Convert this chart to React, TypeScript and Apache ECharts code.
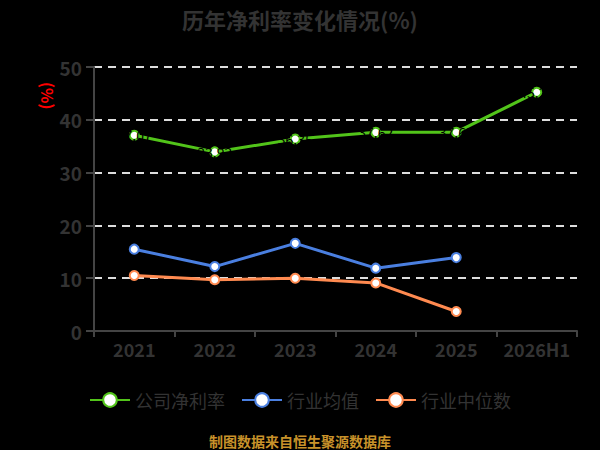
import React, { useEffect, useRef } from "react";
import * as echarts from "echarts";

const categories = ["2021", "2022", "2023", "2024", "2025", "2026H1"];
const companyNetMargin = [37.07, 33.92, 36.35, 37.62, 37.65, 45.23];
const industryMean = [15.5, 12.2, 16.6, 11.9, 13.9];
const industryMedian = [10.5, 9.7, 10.0, 9.1, 3.7];
const yTicks = { min: 0, max: 50, interval: 10 };

const FONT = "'Noto Sans CJK SC', 'Noto Sans', sans-serif";
const GREEN = "#52c41a";
const BLUE = "#4a7fe0";
const ORANGE = "#ff8a50";
const TEXT = "#333";

export default function App() {
  const ref = useRef<HTMLDivElement>(null);
  useEffect(() => {
    document.body.style.margin = "0";
    document.body.style.background = "#000";
    const chart = echarts.init(ref.current!, null, { renderer: "svg" });
    const mkSeries = (name: string, data: number[], color: string, labels: boolean) => ({
      name,
      type: "line",
      data,
      symbol: "circle",
      symbolSize: 9,
      lineStyle: { color, width: 3 },
      itemStyle: { color: "#fff", borderColor: color, borderWidth: 2 },
      label: labels
        ? {
            show: true,
            position: "inside",
            color: "#000",
            fontSize: 14,
            fontFamily: FONT,
            formatter: (p: any) => Number(p.value).toFixed(2),
          }
        : { show: false },
    });
    chart.setOption({
      animation: false,
      backgroundColor: "#000",
      title: {
        text: "历年净利率变化情况(%)",
        left: "center",
        top: 3,
        textStyle: { color: TEXT, fontSize: 22, fontWeight: "bold", fontFamily: FONT },
      },
      grid: { left: 94, right: 23, top: 67, bottom: 119 },
      legend: {
        bottom: 36,
        left: "center",
        itemWidth: 40,
        itemHeight: 17,
        itemGap: 16,
        textStyle: { color: TEXT, fontSize: 18, fontFamily: FONT },
        data: ["公司净利率", "行业均值", "行业中位数"],
      },
      xAxis: {
        type: "category",
        data: categories,
        boundaryGap: true,
        axisLine: { lineStyle: { color: "#444", width: 2 } },
        axisTick: { show: true, interval: 0, length: 6, lineStyle: { color: "#444", width: 2 } },
        axisLabel: {
          color: TEXT,
          fontSize: 18,
          fontWeight: "bold",
          margin: 9,
          interval: 0,
          fontFamily: FONT,
        },
      },
      yAxis: {
        type: "value",
        min: yTicks.min,
        max: yTicks.max,
        interval: yTicks.interval,
        axisLine: { show: true, lineStyle: { color: "#444", width: 2 } },
        axisTick: { show: true, length: 8, lineStyle: { color: "#444", width: 2 } },
        axisLabel: { color: TEXT, fontSize: 19, fontWeight: "bold", margin: 12, fontFamily: FONT },
        splitLine: { lineStyle: { color: "#ddd", type: [8, 6], width: 2 } },
      },
      graphic: [
        {
          type: "text",
          x: 56,
          y: 82,
          rotation: -Math.PI / 2,
          style: { text: "(%)", fill: "#ff0000", fontSize: 16, fontWeight: "bold", fontFamily: FONT },
        },
        {
          type: "text",
          left: "center",
          top: 434,
          style: {
            text: "制图数据来自恒生聚源数据库",
            fill: "#c8922a",
            fontSize: 14,
            fontWeight: "bold",
            fontFamily: FONT,
          },
        },
      ],
      series: [
        mkSeries("公司净利率", companyNetMargin, GREEN, true),
        mkSeries("行业均值", industryMean, BLUE, false),
        mkSeries("行业中位数", industryMedian, ORANGE, false),
      ],
    });
    return () => chart.dispose();
  }, []);
  return <div ref={ref} style={{ width: 600, height: 450 }} />;
}
